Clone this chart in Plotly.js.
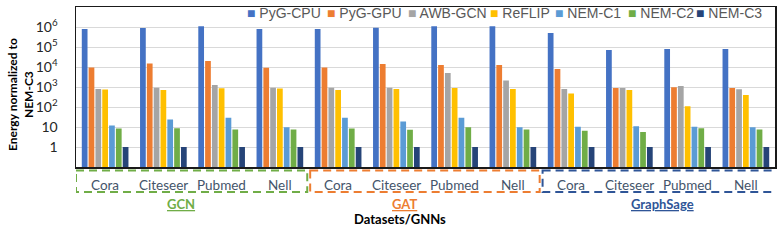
<!DOCTYPE html>
<html><head><meta charset="utf-8">
<script src="https://cdn.plot.ly/plotly-3.0.1.min.js"></script>
<style>html,body{margin:0;padding:0;background:#fff}#chart{width:784px;height:245px}</style>
</head><body><div id="chart"></div>
<script>
const datasets = ['Cora','Citeseer','Pubmed','Nell'];
const gnns = ['GCN','GAT','GraphSage'];
const seriesNames = ['PyG-CPU','PyG-GPU','AWB-GCN','ReFLIP','NEM-C1','NEM-C2','NEM-C3'];
const pygCpu = [8e5, 9e5, 1.1e6, 8e5, 8e5, 9.3e5, 1.1e6, 1.1e6, 5e5, 7e4, 8e4, 8e4];
const pygGpu = [9.5e3, 1.5e4, 2e4, 9.3e3, 9.5e3, 1.4e4, 1.26e4, 1.26e4, 7.9e3, 890, 960, 890];
const awbGcn = [800, 930, 1260, 930, 930, 930, 5000, 2100, 800, 890, 1120, 770];
const reflip = [740, 710, 860, 830, 710, 790, 890, 790, 480, 710, 108, 400];
const nemC1 = [12, 24, 29, 9.7, 29, 19, 29, 9.7, 10.4, 11, 10.4, 9.7];
const nemC2 = [8.3, 8.6, 7.6, 7.6, 8.3, 7.3, 9.7, 7.6, 6.5, 5.6, 8.6, 7.6];
const nemC3 = [1, 1, 1, 1, 1, 1, 1, 1, 1, 1, 1, 1];
const yTickVals = [1, 10, 100, 1e3, 1e4, 1e5, 1e6];
const yTickText = ['1', '10', '10<sup>2</sup>', '10<sup>3</sup>', '10<sup>4</sup>', '10<sup>5</sup>', '10<sup>6</sup>'];

const colors = ['#4472C4','#ED7D31','#A5A5A5','#FFC000','#5B9BD5','#70AD47','#264478'];
const groupColors = ['#70AD47','#ED7D31','#2F5597'];
const allValues = [pygCpu, pygGpu, awbGcn, reflip, nemC1, nemC2, nemC3];

const xLabels = [];
gnns.forEach(() => datasets.forEach(d => xLabels.push(d)));
const xIdx = xLabels.map((_, i) => i);

const traces = allValues.map((vals, k) => ({
  type: 'bar', name: seriesNames[k], x: xIdx, y: vals,
  marker: {color: colors[k]}, showlegend: false
}));

const L = 76, R = 775, T = 7, B = 167;
const W = R - L, H = B - T;
const px = p => (p - L) / W;
const py = p => (B - p) / H;

const annotations = [];
// legend entries
const legendX = [247, 327, 408, 490, 555, 628, 696];
seriesNames.forEach((n, k) => {
  annotations.push({
    xref: 'paper', yref: 'paper', x: px(legendX[k] - 2), y: py(13),
    xanchor: 'left', yanchor: 'middle', showarrow: false,
    text: '<span style="color:' + colors[k] + '">■</span> ' + n,
    font: {family: 'Liberation Sans, Arial', size: 14, color: '#595959'}
  });
});
// dataset labels inside the dashed boxes
xLabels.forEach((lab, i) => {
  annotations.push({
    xref: 'x', yref: 'paper', x: i, y: py(185),
    xanchor: 'center', yanchor: 'middle', showarrow: false,
    text: lab,
    font: {family: 'Lato, Liberation Sans', size: 13.5, color: '#44546A'}
  });
});
// group labels
const groupLabelX = [181, 404, 662];
gnns.forEach((g, i) => {
  annotations.push({
    xref: 'paper', yref: 'paper', x: px(groupLabelX[i]), y: py(204),
    xanchor: 'center', yanchor: 'middle', showarrow: false,
    text: '<b><span style="text-decoration:underline">' + g + '</span></b>',
    font: {family: 'Lato, Liberation Sans', size: 13, color: groupColors[i]}
  });
});
annotations.push({
  xref: 'paper', yref: 'paper', x: px(400), y: py(219),
  xanchor: 'center', yanchor: 'middle', showarrow: false,
  text: '<b>Datasets/GNNs</b>',
  font: {family: 'Lato, Liberation Sans', size: 13, color: '#000'}
});
annotations.push({
  xref: 'paper', yref: 'paper', x: px(20), y: py(95),
  xanchor: 'center', yanchor: 'middle', showarrow: false, textangle: -90,
  text: '<b>Energy normalized to<br>NEM-C3</b>',
  font: {family: 'Lato, Liberation Sans', size: 12, color: '#000'}
});

// dashed boxes around groups
const shapes = [];
const boxX = [[-0.5, 3.47], [3.52, 7.46], [7.51, 11.52]];
gnns.forEach((g, i) => {
  shapes.push({
    type: 'rect', xref: 'x', yref: 'paper',
    x0: boxX[i][0], x1: boxX[i][1], y0: py(170.5), y1: py(192),
    line: {color: groupColors[i], width: 2, dash: '8px,5px'}
  });
});

const layout = {
  width: 784, height: 245,
  margin: {l: L, r: 784 - R, t: T, b: 245 - B},
  paper_bgcolor: '#fff', plot_bgcolor: '#fff',
  barmode: 'group', bargap: 0.18, bargroupgap: 0.16,
  xaxis: {
    range: [-0.5, 11.5], tickvals: xIdx, showticklabels: false,
    showgrid: false, zeroline: false, showline: true, mirror: true,
    linecolor: '#1a1a1a', linewidth: 1.5, ticks: ''
  },
  yaxis: {
    type: 'log', range: [-1, 7], tickvals: yTickVals, ticktext: yTickText,
    showgrid: true, gridcolor: '#D9D9D9', gridwidth: 1,
    zeroline: false, showline: true, mirror: true,
    linecolor: '#1a1a1a', linewidth: 1.5, ticks: '',
    ticklabelstandoff: 14,
    tickfont: {family: 'Lato, Liberation Sans', size: 14, color: '#262626'}
  },
  annotations: annotations,
  shapes: shapes,
  showlegend: false
};

Plotly.newPlot('chart', traces, layout, {staticPlot: true, displayModeBar: false});
</script>
</body></html>
